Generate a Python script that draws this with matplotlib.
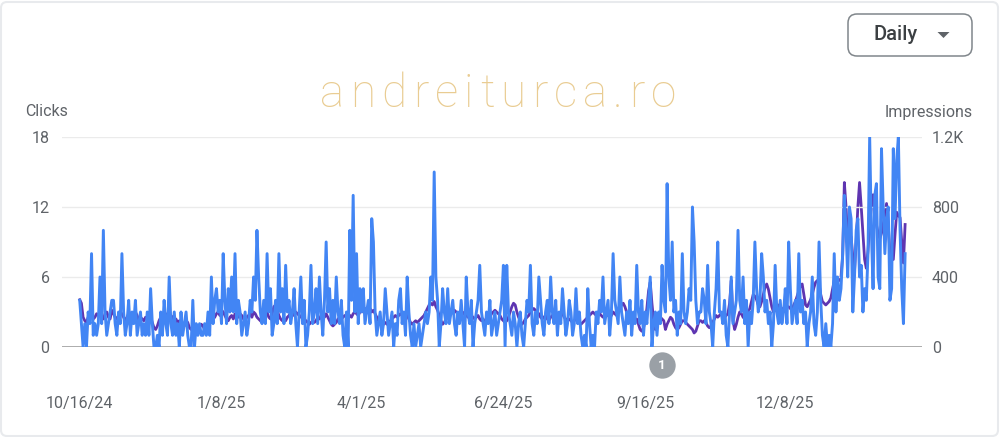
import matplotlib
matplotlib.use('Agg')
import matplotlib.pyplot as plt
import matplotlib.dates as mdates
from matplotlib.patches import FancyBboxPatch, Polygon
from matplotlib.transforms import IdentityTransform
import pandas as pd

plt.rcParams['font.family'] = ['Roboto', 'DejaVu Sans']

# daily values starting 10/16/24
start_date = '2024-10-16'
clicks = [
    4, 2, 0, 2, 0, 3, 2, 8, 1, 2,
    1, 2, 6, 2, 10, 3, 1, 2, 3, 4,
    4, 2, 1, 3, 2, 8, 3, 1, 2, 4,
    1, 3, 2, 4, 1, 2, 3, 1, 2, 1,
    3, 1, 5, 2, 0, 0, 1, 0, 3, 1,
    4, 2, 1, 6, 2, 1, 3, 1, 2, 0,
    3, 1, 2, 3, 1, 0, 0, 4, 0, 2,
    1, 2, 1, 1, 2, 1, 3, 1, 6, 2,
    4, 5, 3, 4, 2, 8, 4, 2, 5, 3,
    6, 3, 8, 2, 4, 3, 1, 2, 3, 1,
    2, 4, 3, 6, 4, 10, 6, 3, 2, 4,
    2, 8, 3, 5, 1, 2, 4, 2, 8, 3,
    5, 2, 7, 3, 4, 2, 3, 5, 2, 0,
    3, 6, 2, 4, 0, 1, 3, 7, 2, 3,
    5, 2, 6, 3, 1, 4, 9, 3, 5, 2,
    4, 2, 6, 3, 2, 4, 1, 0, 3, 0,
    10, 4, 13, 3, 8, 2, 5, 3, 5, 2,
    3, 4, 2, 11, 9, 3, 1, 2, 3, 1,
    2, 5, 3, 1, 2, 3, 0, 2, 1, 4,
    5, 2, 3, 1, 6, 3, 1, 0, 2, 0,
    1, 2, 0, 1, 2, 3, 2, 3, 6, 4,
    15, 6, 4, 0, 2, 5, 3, 2, 5, 2,
    3, 4, 2, 1, 3, 2, 4, 2, 0, 6,
    3, 2, 4, 0, 2, 3, 4, 7, 3, 2,
    1, 3, 2, 4, 1, 2, 3, 1, 2, 3,
    4, 7, 0, 7, 3, 2, 1, 3, 2, 0,
    2, 3, 1, 0, 2, 4, 3, 7, 2, 1,
    3, 2, 6, 4, 2, 1, 3, 4, 2, 6,
    3, 2, 4, 1, 3, 2, 5, 3, 1, 2,
    4, 3, 1, 2, 5, 2, 3, 1, 0, 1,
    0, 5, 2, 0, 1, 0, 3, 2, 4, 3,
    6, 2, 3, 4, 1, 3, 8, 4, 3, 2,
    6, 3, 2, 1, 3, 2, 4, 1, 3, 2,
    7, 3, 2, 4, 1, 3, 2, 4, 6, 0,
    2, 3, 1, 3, 2, 7, 4, 3, 14, 6,
    4, 9, 3, 4, 1, 3, 2, 8, 3, 2,
    3, 5, 4, 12, 9, 4, 2, 3, 3, 5,
    4, 2, 7, 3, 2, 0, 3, 5, 9, 3,
    3, 2, 4, 1, 0, 3, 6, 2, 3, 4,
    10, 4, 3, 6, 2, 4, 0, 3, 2, 4,
    9, 5, 3, 4, 8, 6, 3, 4, 2, 3,
    0, 2, 7, 3, 2, 4, 2, 3, 5, 2,
    9, 5, 2, 3, 4, 2, 8, 3, 4, 2,
    3, 0, 2, 3, 6, 2, 1, 3, 9, 4,
    1, 0, 2, 0, 1, 0, 2, 8, 3, 6,
    4, 5, 8, 13, 10, 6, 12, 11, 3, 6,
    10, 11, 6, 7, 3, 5, 4, 8, 18, 10,
    5, 13, 14, 6, 5, 17, 12, 8, 11, 12,
    4, 5, 17, 11, 16, 18, 10, 5, 2, 8,
]
impressions = [
    270, 250, 170, 150, 140, 170, 180, 190, 160, 170,
    190, 180, 200, 170, 160, 190, 200, 170, 160, 210,
    190, 170, 160, 180, 200, 190, 170, 150, 170, 190,
    180, 160, 170, 200, 180, 150, 170, 160, 150, 170,
    160, 150, 170, 140, 110, 100, 120, 150, 170, 160,
    180, 190, 170, 160, 180, 170, 150, 160, 140, 150,
    140, 130, 120, 150, 140, 110, 100, 120, 130, 110,
    100, 110, 130, 120, 100, 110, 120, 140, 170, 160,
    170, 190, 200, 180, 210, 200, 180, 160, 150, 170,
    180, 160, 190, 180, 170, 190, 180, 160, 150, 170,
    180, 190, 170, 200, 190, 170, 160, 150, 140, 160,
    180, 200, 170, 160, 190, 230, 240, 210, 180, 160,
    150, 160, 150, 170, 180, 200, 190, 180, 200, 190,
    180, 170, 190, 160, 150, 140, 130, 140, 150, 140,
    150, 170, 160, 180, 190, 170, 190, 170, 150, 130,
    120, 130, 140, 160, 170, 160, 170, 180, 170, 190,
    180, 170, 190, 200, 190, 180, 200, 210, 200, 220,
    210, 230, 220, 200, 210, 190, 170, 150, 140, 130,
    130, 140, 130, 150, 140, 160, 170, 180, 170, 180,
    190, 180, 170, 190, 180, 160, 140, 130, 140, 150,
    140, 150, 160, 170, 180, 200, 220, 240, 250, 240,
    260, 230, 210, 180, 150, 130, 140, 160, 170, 180,
    190, 200, 210, 200, 190, 180, 170, 190, 200, 180,
    170, 190, 180, 170, 160, 170, 180, 160, 150, 160,
    140, 150, 160, 170, 190, 200, 210, 200, 190, 180,
    160, 150, 140, 150, 170, 200, 230, 250, 240, 200,
    170, 150, 130, 140, 160, 170, 180, 200, 210, 220,
    210, 200, 190, 170, 160, 170, 180, 160, 150, 170,
    180, 190, 180, 170, 180, 200, 190, 170, 160, 150,
    160, 150, 140, 150, 160, 150, 140, 130, 140, 150,
    160, 170, 180, 190, 200, 190, 180, 200, 190, 180,
    170, 180, 190, 180, 170, 180, 200, 190, 180, 200,
    220, 240, 250, 230, 200, 180, 170, 160, 150, 140,
    160, 130, 100, 90, 110, 150, 220, 320, 370, 250,
    150, 100, 120, 150, 170, 160, 150, 100, 130, 150,
    170, 160, 130, 110, 100, 110, 130, 150, 150, 140,
    130, 120, 110, 100, 80, 90, 120, 150, 150, 140,
    150, 140, 120, 110, 120, 140, 160, 180, 170, 180,
    190, 180, 170, 180, 190, 250, 380, 150, 100, 130,
    170, 200, 190, 170, 160, 180, 200, 220, 260, 300,
    290, 270, 240, 230, 260, 300, 340, 360, 330, 280,
    230, 200, 210, 220, 240, 230, 220, 210, 220, 230,
    230, 220, 210, 240, 260, 290, 320, 350, 360, 300,
    240, 230, 250, 270, 300, 340, 370, 380, 360, 300,
    260, 250, 240, 250, 260, 280, 330, 380, 400, 390,
    380, 400, 520, 940, 800, 600, 620, 630, 520, 430,
    600, 800, 940, 800, 650, 500, 450, 550, 700, 800,
    870, 780, 700, 650, 620, 650, 700, 760, 820, 700,
    540, 520, 500, 640, 770, 750, 740, 600, 480, 700,
]
tick_dates = ['2024-10-16', '2025-01-08', '2025-04-01', '2025-06-24', '2025-09-16', '2025-12-08']
tick_labels = ['10/16/24', '1/8/25', '4/1/25', '6/24/25', '9/16/25', '12/8/25']
clicks_ticks = [0, 6, 12, 18]
impr_ticks = [0, 400, 800, 1200]
impr_labels = ['0', '400', '800', '1.2K']
annotation_date = '2025-09-26'

dates = pd.date_range(start_date, periods=len(clicks), freq='D')

blue = '#4285f4'
purple = '#5e35b1'
grey_txt = '#5f6368'

fig = plt.figure(figsize=(10, 4.37), dpi=100)
fig.patch.set_facecolor('white')
ax = fig.add_axes([0.062, 0.206, 0.86, 0.4805])
ax2 = ax.twinx()

ax2.plot(dates, impressions, color=purple, lw=2.0, solid_joinstyle='round')
ax.plot(dates, clicks, color=blue, lw=2.1, solid_joinstyle='round')
ax.set_zorder(ax2.get_zorder() + 1)
ax.patch.set_visible(False)

ax.set_ylim(0, 18)
ax2.set_ylim(0, 1200)
x0 = dates[0] - pd.Timedelta(days=10.5)
x1 = dates[-1] + pd.Timedelta(days=10)
ax.set_xlim(x0, x1)

for y in clicks_ticks[1:]:
    ax.axhline(y, color='#ebebeb', lw=1, zorder=0)
ax.axhline(0, color='#9e9e9e', lw=1.2, zorder=1)

for a in (ax, ax2):
    for s in a.spines.values():
        s.set_visible(False)

ax.set_yticks(clicks_ticks)
ax.tick_params(axis='y', length=0, pad=9, labelsize=11.5, labelcolor=grey_txt)
ax2.set_yticks(impr_ticks)
ax2.set_yticklabels(impr_labels)
ax2.tick_params(axis='y', length=0, pad=7, labelsize=11.5, labelcolor=grey_txt)

ax.set_xticks(pd.to_datetime(tick_dates))
ax.set_xticklabels(tick_labels)
ax.tick_params(axis='x', length=0, pad=35, labelsize=11.5, labelcolor=grey_txt)

fig.text(0.025, 1 - 112 / 437, 'Clicks', ha='left', va='center', fontsize=11.5, color=grey_txt)
fig.text(0.973, 1 - 112 / 437, 'Impressions', ha='right', va='center', fontsize=11.5, color=grey_txt)

# annotation marker under the axis
ann = pd.to_datetime(annotation_date)
xt = ax.get_xaxis_transform()
ax.plot([ann], [-0.086], marker='o', ms=19, color='#9aa0a6', mec='none',
        transform=xt, clip_on=False)
ax.text(ann, -0.086, '1', transform=xt, ha='center', va='center',
        color='white', fontsize=9.5, fontweight='bold')

# "Daily" dropdown
ident = IdentityTransform()
btn = FancyBboxPatch((848, 437 - 56), 124, 42, boxstyle='round,pad=0,rounding_size=9',
                     transform=ident, facecolor='white', edgecolor='#80868b', lw=1.1)
fig.add_artist(btn)
fig.text(0.896, 1 - 34 / 437, 'Daily', ha='center', va='center', fontsize=14.5,
         fontweight='medium', color='#3c4043')
tri = Polygon([(937.5, 437 - 32), (949.5, 437 - 32), (943.5, 437 - 38)],
              transform=ident, facecolor='#5f6368', edgecolor='none')
fig.add_artist(tri)

# light card border
card = FancyBboxPatch((1, 1), 997, 434, boxstyle='round,pad=0,rounding_size=6',
                      transform=ident, facecolor='none', edgecolor='#e8eaed', lw=1.5)
fig.add_artist(card)

# watermark with letter spacing
wm = 'andreiturca.ro'
renderer = fig.canvas.get_renderer()
chars = []
widths = []
for ch in wm:
    t = fig.text(0, 1 - 107 / 437, ch, ha='left', va='baseline', fontsize=33,
                 fontweight='light', color='#e9cc92')
    chars.append(t)
    widths.append(t.get_window_extent(renderer).width)
gap = (356 - sum(widths)) / (len(wm) - 1)
xpos = 320
for t, w in zip(chars, widths):
    t.set_x(xpos / 1000)
    xpos += w + gap

fig.savefig('out.png', dpi=100)
